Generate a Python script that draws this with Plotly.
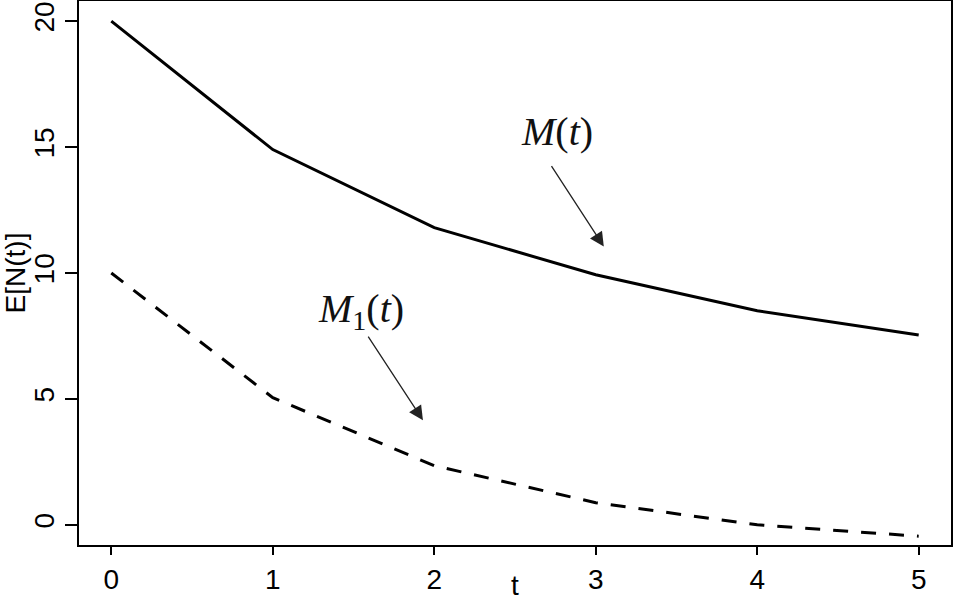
import plotly.graph_objects as go

# Data
t_vals = [0, 1, 2, 3, 4, 5]
M_vals = [20.0, 14.9, 11.8, 9.93, 8.5, 7.54]
M1_vals = [10.0, 5.05, 2.35, 0.88, 0.0, -0.45]
x_ticks = [0, 1, 2, 3, 4, 5]
y_ticks = [0, 5, 10, 15, 20]

fig = go.Figure()
fig.add_trace(go.Scatter(x=t_vals, y=M_vals, mode="lines",
                         line=dict(color="black", width=3), showlegend=False))
fig.add_trace(go.Scatter(x=t_vals, y=M1_vals, mode="lines",
                         line=dict(color="black", width=3, dash="15px,13px"),
                         showlegend=False))

serif = "Liberation Serif"
fig.add_annotation(x=2.76, y=15.6, xref="x", yref="y", showarrow=False,
                   text="<i>M</i>(<i>t</i>)",
                   font=dict(family=serif, size=40, color="#111"))
fig.add_annotation(x=1.545, y=8.5, xref="x", yref="y", showarrow=False,
                   text="<i>M</i><sub>1</sub>(<i>t</i>)",
                   font=dict(family=serif, size=40, color="#111"))
fig.add_annotation(x=3.05, y=11.05, ax=2.72, ay=14.3, xref="x", yref="y",
                   axref="x", ayref="y", text="", showarrow=True,
                   arrowhead=2, arrowsize=2.2, arrowwidth=1.3, arrowcolor="#222",
                   standoff=0, startstandoff=0)
fig.add_annotation(x=1.93, y=4.15, ax=1.585, ay=7.53, xref="x", yref="y",
                   axref="x", ayref="y", text="", showarrow=True,
                   arrowhead=2, arrowsize=2.2, arrowwidth=1.3, arrowcolor="#222",
                   standoff=0, startstandoff=0)

axfont = dict(family="Liberation Sans", size=28, color="black")
fig.update_layout(
    width=954, height=601,
    margin=dict(l=79, r=3, t=1, b=56),
    paper_bgcolor="white", plot_bgcolor="white",
    xaxis=dict(range=[-0.2, 5.2], tickvals=x_ticks, ticktext=[str(v) for v in x_ticks],
               ticks="outside", ticklen=8, tickwidth=1.5, tickcolor="black",
               showline=True, linecolor="black", linewidth=2, mirror=True,
               showgrid=False, zeroline=False, tickfont=axfont,
               title=dict(text="t", font=axfont, standoff=6), automargin=False),
    yaxis=dict(range=[-0.8, 20.8], tickvals=y_ticks, ticktext=[str(v) for v in y_ticks],
               ticks="outside", ticklen=12, tickwidth=1.5, tickcolor="black",
               tickangle=-90,
               showline=True, linecolor="black", linewidth=2, mirror=True,
               showgrid=False, zeroline=False, tickfont=axfont,
               title=dict(text="E[N(t)]", font=axfont, standoff=0), automargin=False),
)

fig.write_html("out.html", config={"displayModeBar": False},
               post_script="document.body.style.margin='0px';")
